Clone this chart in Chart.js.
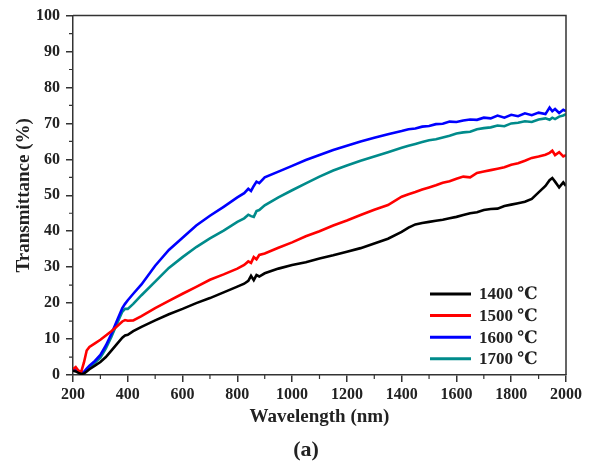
<!DOCTYPE html>
<html>
<head>
<meta charset="utf-8">
<script src="https://cdn.jsdelivr.net/npm/chart.js@4"></script>
<style>
  body { margin: 0; background: #fff; }
</style>
</head>
<body>
<canvas id="myChart" width="591" height="466"></canvas>
<script>
// wavelength in nm, shared by all four curves
const wavelengths = [200, 210, 220, 230, 240, 250, 260, 280, 300, 320, 340, 360, 380, 390, 400, 420, 450, 500, 550, 600, 650, 700, 750, 800, 825, 840, 850, 860, 870, 880, 900, 950, 1000, 1050, 1100, 1150, 1200, 1250, 1300, 1350, 1400, 1425, 1450, 1475, 1500, 1525, 1550, 1575, 1600, 1625, 1650, 1675, 1700, 1725, 1750, 1775, 1800, 1825, 1850, 1875, 1900, 1925, 1940, 1950, 1960, 1975, 1990, 2000];

const t1400 = [1.2, 1.0, 0.6, 0.3, 0.4, 1.0, 1.6, 2.6, 3.6, 5.0, 6.8, 8.6, 10.4, 11.0, 11.2, 12.2, 13.4, 15.2, 16.9, 18.4, 20.0, 21.4, 23.0, 24.6, 25.4, 26.2, 27.6, 26.4, 27.8, 27.4, 28.3, 29.6, 30.6, 31.4, 32.4, 33.3, 34.3, 35.3, 36.6, 37.9, 39.8, 41.0, 41.9, 42.3, 42.6, 42.9, 43.2, 43.6, 44.0, 44.5, 45.0, 45.3, 45.9, 46.2, 46.3, 47.0, 47.4, 47.8, 48.2, 49.0, 50.8, 52.6, 54.2, 54.8, 53.8, 52.2, 53.6, 52.6];
const t1500 = [1.6, 2.2, 1.2, 0.9, 3.5, 6.8, 7.8, 8.8, 9.8, 11.0, 12.2, 13.5, 14.9, 15.3, 15.1, 15.2, 16.4, 18.6, 20.6, 22.6, 24.5, 26.5, 28.0, 29.6, 30.6, 31.6, 31.2, 32.8, 32.2, 33.4, 33.8, 35.4, 36.9, 38.6, 40.0, 41.6, 43.0, 44.5, 46.0, 47.3, 49.6, 50.3, 50.9, 51.6, 52.2, 52.8, 53.5, 53.9, 54.6, 55.2, 55.0, 56.2, 56.6, 57.0, 57.4, 57.8, 58.5, 58.9, 59.6, 60.4, 60.8, 61.3, 61.8, 62.4, 61.2, 62.0, 60.8, 61.2];
const t1600 = [1.2, 1.6, 1.0, 0.8, 0.9, 1.8, 2.6, 3.9, 5.6, 8.2, 11.4, 15.0, 18.6, 19.8, 20.8, 22.6, 25.2, 30.4, 34.8, 38.2, 41.6, 44.3, 46.8, 49.4, 50.6, 51.8, 51.2, 52.6, 53.8, 53.4, 55.0, 56.6, 58.2, 59.8, 61.2, 62.6, 63.8, 65.0, 66.0, 67.0, 67.9, 68.4, 68.6, 69.1, 69.3, 69.8, 69.9, 70.5, 70.4, 70.8, 71.1, 71.0, 71.6, 71.4, 72.2, 71.6, 72.4, 72.0, 72.8, 72.3, 73.0, 72.6, 74.4, 73.4, 74.0, 72.9, 73.8, 73.4];
const t1700 = [1.4, 1.8, 1.2, 0.6, 0.5, 1.4, 2.2, 3.4, 4.8, 7.4, 10.6, 14.2, 17.6, 18.4, 18.4, 19.8, 22.2, 26.0, 29.8, 32.8, 35.6, 38.0, 40.2, 42.6, 43.6, 44.6, 44.2, 44.0, 45.6, 45.9, 47.2, 49.4, 51.4, 53.3, 55.2, 56.9, 58.3, 59.6, 60.8, 62.0, 63.2, 63.8, 64.3, 64.8, 65.3, 65.6, 66.1, 66.6, 67.2, 67.5, 67.7, 68.4, 68.7, 68.9, 69.4, 69.2, 70.0, 70.2, 70.6, 70.4, 71.1, 71.4, 71.0, 71.6, 71.2, 71.9, 72.2, 72.6];

const seriesLabels = ['1400 \u2103', '1500 \u2103', '1600 \u2103', '1700 \u2103'];
const seriesColors = ['#000000', '#ff0000', '#0000ff', '#008b8b'];
const seriesValues = [t1400, t1500, t1600, t1700];

const serif = "'Liberation Serif', 'Times New Roman', 'DejaVu Serif', serif";

function toPoints(values) {
  return wavelengths.map((w, i) => ({ x: w, y: values[i] }));
}

const datasets = seriesValues.map((vals, i) => ({
  label: seriesLabels[i],
  data: toPoints(vals),
  borderColor: seriesColors[i],
  backgroundColor: seriesColors[i],
  borderWidth: 2.6,
  pointRadius: 0,
  tension: 0
}));

// frame, minor ticks, legend and panel letter
const extras = {
  id: 'extras',
  afterDraw(chart) {
    const ctx = chart.ctx;
    const area = chart.chartArea;
    const xs = chart.scales.x;
    const ys = chart.scales.y;
    ctx.save();
    ctx.strokeStyle = '#333';
    ctx.lineWidth = 1.5;
    ctx.beginPath();
    ctx.moveTo(area.left, area.top);
    ctx.lineTo(area.right, area.top);
    ctx.lineTo(area.right, area.bottom);
    ctx.stroke();

    // minor ticks
    ctx.lineWidth = 1.2;
    ctx.beginPath();
    for (let v = 5; v < 100; v += 10) {
      const py = ys.getPixelForValue(v);
      ctx.moveTo(area.left, py);
      ctx.lineTo(area.left - 4, py);
    }
    for (let w = 300; w < 2000; w += 200) {
      const px = xs.getPixelForValue(w);
      ctx.moveTo(px, area.bottom);
      ctx.lineTo(px, area.bottom + 4);
    }
    ctx.stroke();

    // legend in lower right of plot
    ctx.font = 'bold 17px ' + serif;
    ctx.textBaseline = 'middle';
    ctx.textAlign = 'left';
    chart.data.datasets.forEach((ds, i) => {
      const y = 294 + i * 21.6;
      ctx.strokeStyle = ds.borderColor;
      ctx.lineWidth = 3;
      ctx.beginPath();
      ctx.moveTo(430, y);
      ctx.lineTo(471, y);
      ctx.stroke();
      ctx.fillStyle = '#222';
      ctx.fillText(ds.label, 479, y + 1);
    });

    ctx.font = 'bold 22px ' + serif;
    ctx.textAlign = 'center';
    ctx.fillText('(a)', 306, 450);
    ctx.restore();
  }
};

new Chart(document.getElementById('myChart'), {
  type: 'line',
  data: { datasets: datasets },
  options: {
    responsive: false,
    devicePixelRatio: 1,
    animation: false,
    layout: { padding: { left: 0, right: 25, top: 13, bottom: 0 } },
    plugins: {
      legend: { display: false },
      tooltip: { enabled: false }
    },
    scales: {
      x: {
        type: 'linear',
        min: 200,
        max: 2000,
        afterFit: (scale) => { scale.height = 91; },
        ticks: {
          stepSize: 200,
          padding: 3,
          color: '#222',
          maxRotation: 0,
          callback: (v) => String(v),
          font: { family: serif, size: 16, weight: 'bold' }
        },
        grid: { drawOnChartArea: false, tickLength: 7, color: '#333', lineWidth: 1.5 },
        border: { color: '#333', width: 1.5 },
        title: {
          display: true,
          text: 'Wavelength (nm)',
          color: '#222',
          padding: { top: 0, bottom: 38 },
          font: { family: serif, size: 19, weight: 'bold' }
        }
      },
      y: {
        min: 0,
        max: 100,
        afterFit: (scale) => { scale.width = 73; },
        ticks: {
          stepSize: 10,
          padding: 6,
          color: '#222',
          callback: (v) => String(v),
          font: { family: serif, size: 16, weight: 'bold' }
        },
        grid: { drawOnChartArea: false, tickLength: 7, color: '#333', lineWidth: 1.5 },
        border: { color: '#333', width: 1.5 },
        title: {
          display: true,
          text: 'Transmittance (%)',
          color: '#222',
          padding: { top: 13, bottom: 0 },
          font: { family: serif, size: 19, weight: 'bold' }
        }
      }
    }
  },
  plugins: [extras]
});
</script>
</body>
</html>
